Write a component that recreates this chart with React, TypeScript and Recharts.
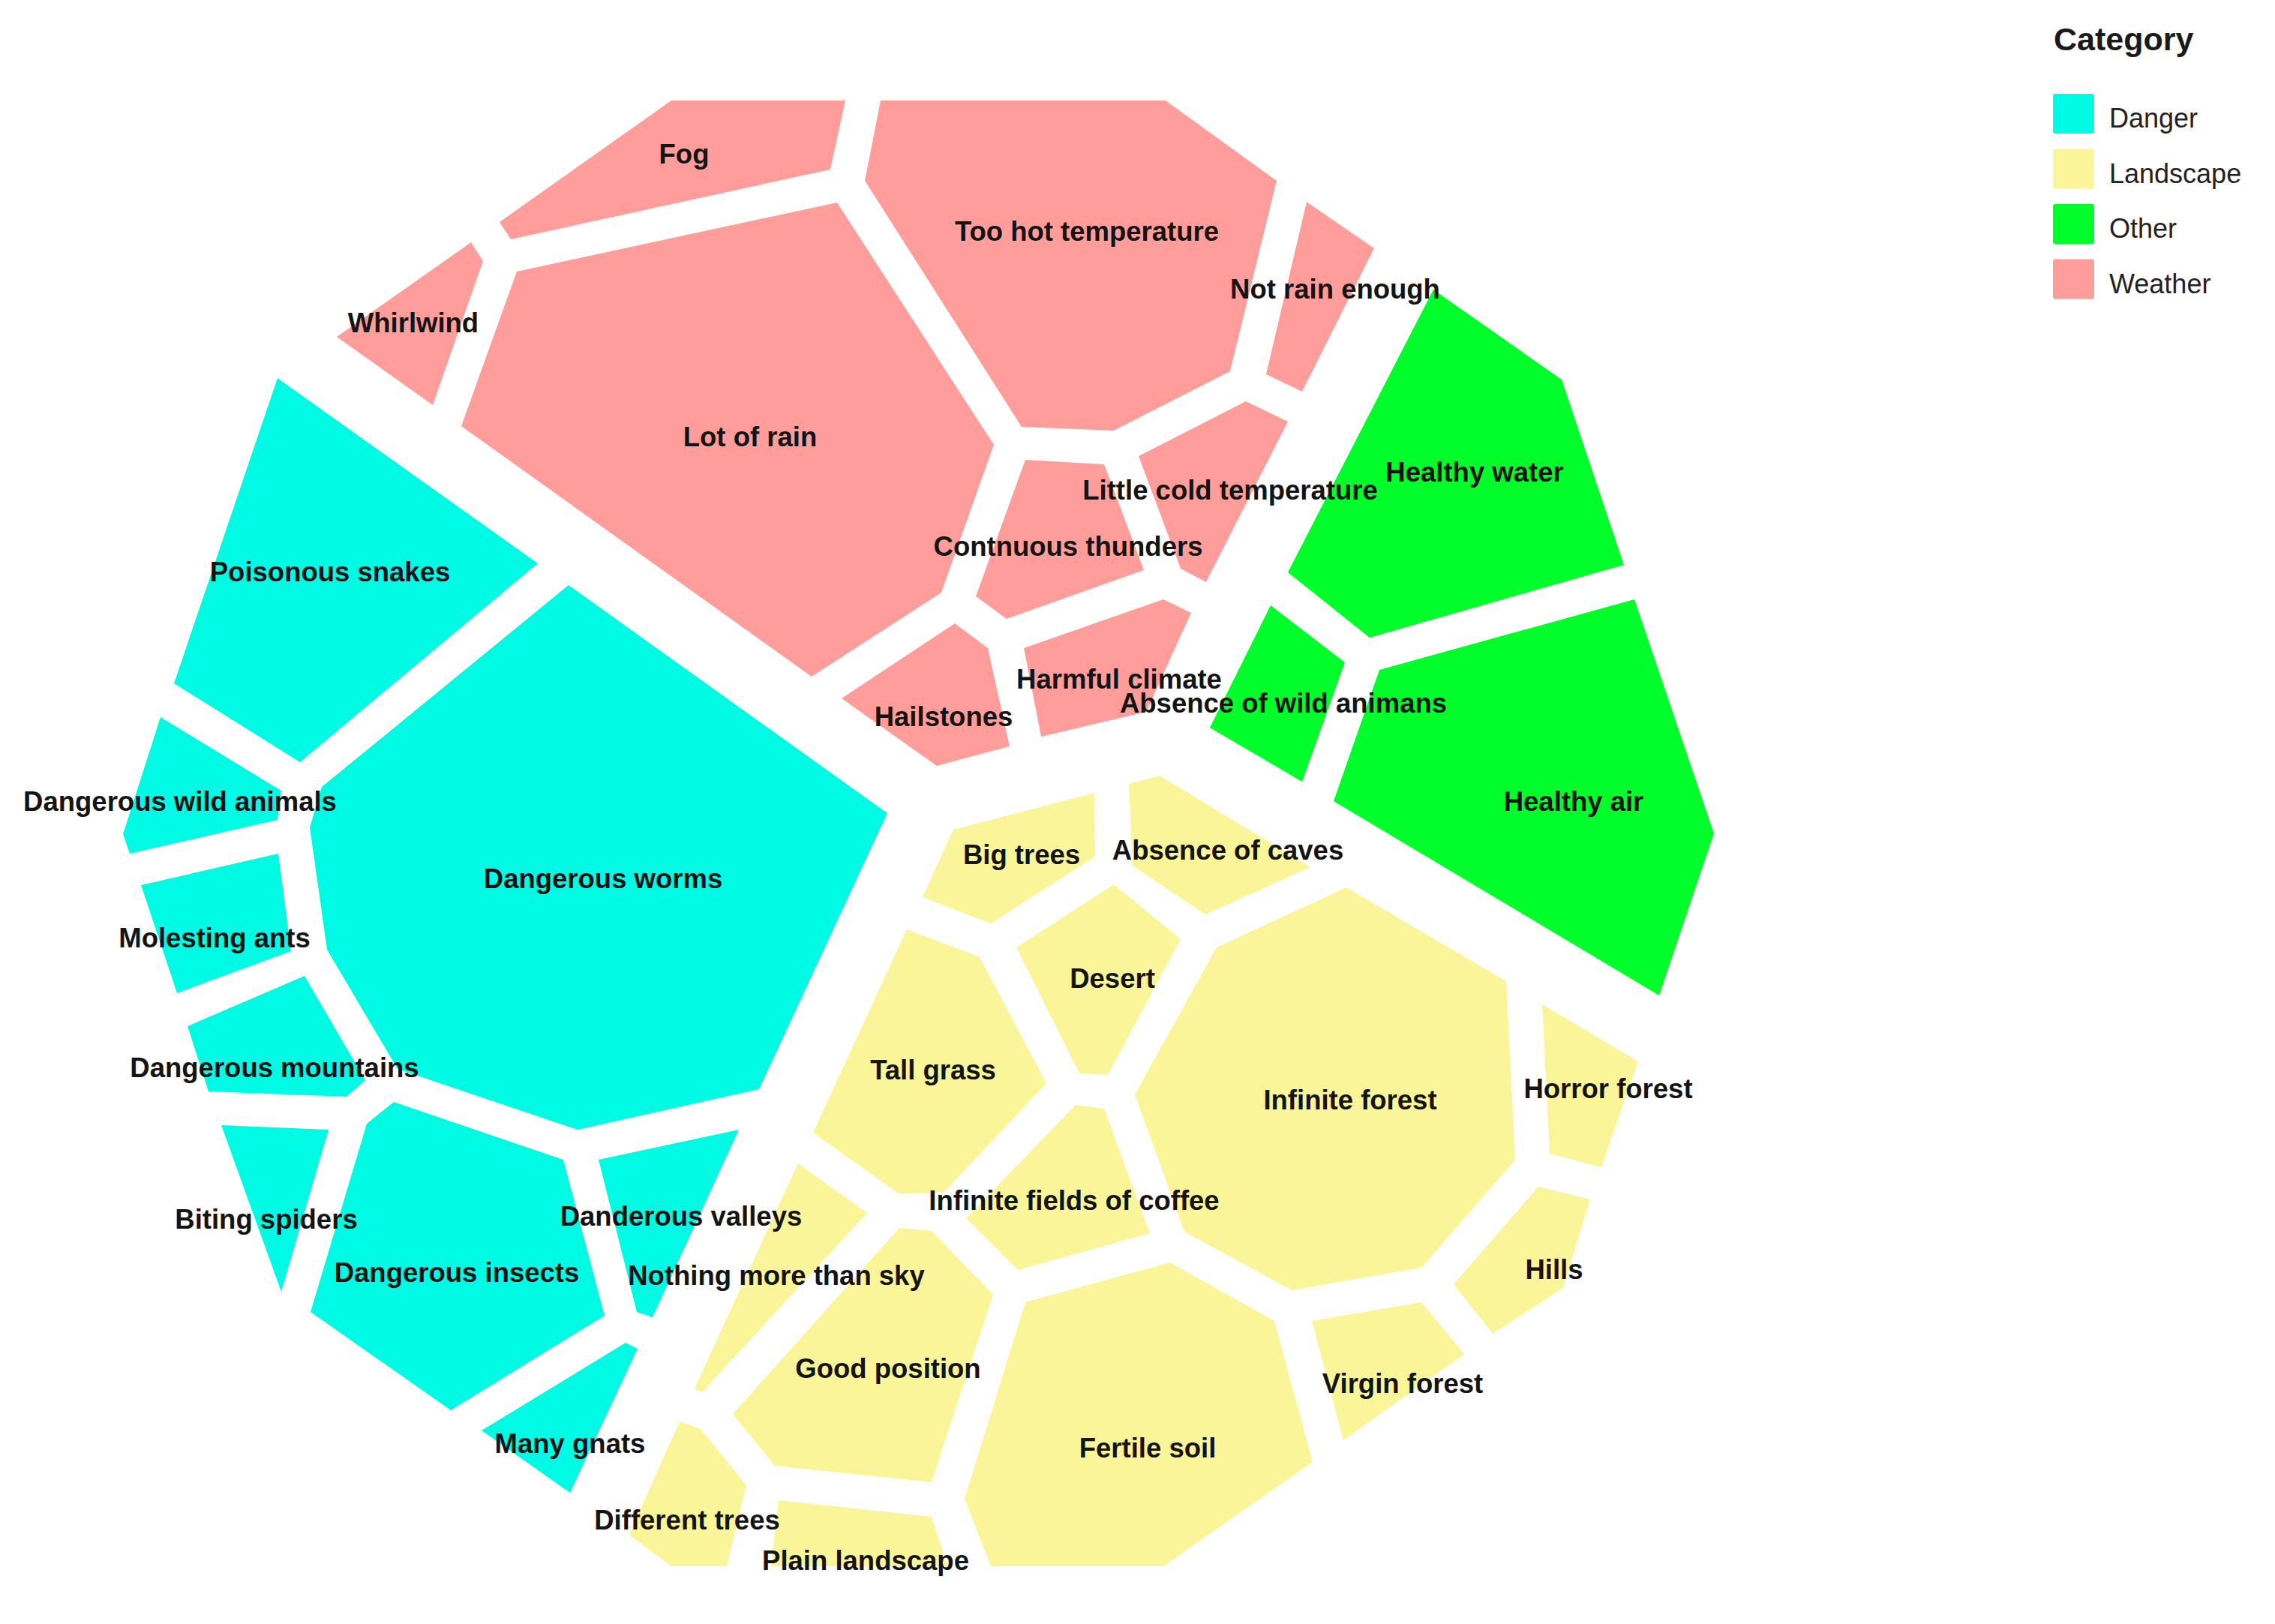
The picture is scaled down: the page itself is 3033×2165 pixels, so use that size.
import React from "react";
import { ScatterChart, Scatter, XAxis, YAxis } from "recharts";

const W = 3033;
const H = 2165;

const categories = ["Danger", "Landscape", "Other", "Weather"];
const categoryColors = ["#00FBE4", "#FAF598", "#00FF2A", "#FF9D9B"];

const cellNames = [
  "Fog", "Whirlwind", "Too hot temperature", "Not rain enough", "Lot of rain",
  "Little cold temperature", "Contnuous thunders", "Hailstones", "Harmful climate",
  "Healthy water", "Absence of wild animans", "Healthy air",
  "Poisonous snakes", "Dangerous wild animals", "Dangerous worms", "Molesting ants",
  "Dangerous mountains", "Biting spiders", "Dangerous insects", "Danderous valleys", "Many gnats",
  "Big trees", "Absence of caves", "Desert", "Tall grass", "Infinite forest", "Horror forest",
  "Infinite fields of coffee", "Nothing more than sky", "Good position", "Hills",
  "Virgin forest", "Fertile soil", "Different trees", "Plain landscape",
];

const cellCategory = [
  "Weather", "Weather", "Weather", "Weather", "Weather", "Weather", "Weather", "Weather", "Weather",
  "Other", "Other", "Other",
  "Danger", "Danger", "Danger", "Danger", "Danger", "Danger", "Danger", "Danger", "Danger",
  "Landscape", "Landscape", "Landscape", "Landscape", "Landscape", "Landscape", "Landscape",
  "Landscape", "Landscape", "Landscape", "Landscape", "Landscape", "Landscape", "Landscape",
];

// voronoi cell outlines, in picture units
const cellOutlines: number[][][] = [
  [[895, 134], [1127, 134], [1107, 226], [681, 319], [666, 296]],
  [[628, 323], [644, 348], [577, 540], [449, 449]],
  [[1174, 134], [1554, 134], [1702, 241], [1640, 495], [1485, 574], [1362, 569], [1153, 241]],
  [[1742, 269], [1832, 331], [1736, 522], [1688, 499]],
  [[689, 362], [1116, 270], [1325, 593], [1255, 790], [1082, 902], [615, 568]],
  [[1661, 535], [1717, 562], [1608, 776], [1574, 758], [1518, 608]],
  [[1367, 613], [1472, 619], [1525, 760], [1342, 825], [1301, 795]],
  [[1273, 831], [1317, 864], [1346, 995], [1249, 1021], [1122, 931]],
  [[1365, 864], [1551, 799], [1588, 817], [1528, 949], [1388, 982]],
  [[1911, 386], [2082, 506], [2165, 753], [1826, 850], [1717, 763]],
  [[1694, 807], [1793, 883], [1736, 1042], [1613, 970]],
  [[1839, 893], [2179, 799], [2285, 1111], [2212, 1327], [1778, 1068]],
  [[370, 504], [717, 751], [400, 1016], [232, 911]],
  [[214, 956], [375, 1054], [370, 1093], [173, 1138], [164, 1112]],
  [[758, 780], [1183, 1084], [1012, 1452], [770, 1506], [530, 1425], [436, 1266], [413, 1103], [429, 1049]],
  [[188, 1180], [371, 1138], [388, 1268], [236, 1324]],
  [[250, 1368], [406, 1301], [487, 1440], [462, 1462], [278, 1455]],
  [[295, 1500], [438, 1506], [375, 1722]],
  [[489, 1498], [525, 1469], [751, 1546], [806, 1754], [601, 1880], [414, 1749]],
  [[798, 1546], [985, 1506], [870, 1756], [849, 1749]],
  [[642, 1907], [834, 1790], [850, 1798], [760, 1990]],
  [[1271, 1106], [1459, 1057], [1460, 1142], [1321, 1231], [1230, 1196]],
  [[1505, 1045], [1546, 1034], [1747, 1156], [1607, 1219], [1510, 1154]],
  [[1485, 1179], [1574, 1252], [1477, 1433], [1439, 1431], [1355, 1263]],
  [[1209, 1239], [1306, 1276], [1395, 1444], [1258, 1590], [1198, 1591], [1084, 1510]],
  [[1622, 1263], [1795, 1183], [2008, 1308], [2020, 1546], [1895, 1690], [1722, 1720], [1579, 1642], [1513, 1459]],
  [[2056, 1339], [2184, 1415], [2135, 1556], [2066, 1538]],
  [[1434, 1473], [1472, 1478], [1533, 1644], [1357, 1693], [1288, 1624]],
  [[1064, 1551], [1156, 1617], [936, 1856], [926, 1851]],
  [[1199, 1637], [1242, 1641], [1324, 1726], [1242, 1976], [1033, 1954], [977, 1885]],
  [[2051, 1582], [2120, 1599], [2084, 1717], [1990, 1778], [1938, 1712]],
  [[1749, 1761], [1895, 1736], [1952, 1805], [1791, 1920]],
  [[1367, 1736], [1560, 1683], [1699, 1761], [1750, 1949], [1551, 2088], [1321, 2088], [1286, 1998]],
  [[906, 1895], [934, 1905], [995, 1980], [969, 2088], [895, 2088], [839, 2046]],
  [[1038, 2000], [1242, 2022], [1263, 2088], [1028, 2088]],
];

const labelPositions: number[][] = [
  [912, 205], [551, 430], [1449, 308], [1780, 385], [1000, 582],
  [1640, 653], [1424, 728], [1258, 955], [1492, 905],
  [1966, 629], [1711, 937], [2098, 1068],
  [440, 762], [240, 1068], [804, 1171], [286, 1250],
  [366, 1423], [355, 1625], [609, 1696], [908, 1621], [760, 1924],
  [1362, 1139], [1637, 1133], [1483, 1304], [1244, 1426], [1800, 1466], [2144, 1451],
  [1432, 1600], [1035, 1700], [1184, 1824], [2072, 1692],
  [1870, 1844], [1530, 1930], [916, 2026], [1154, 2080],
];

const FONT = '"Liberation Sans", Arial, sans-serif';

const colorOf = (cat: string) => categoryColors[categories.indexOf(cat)];

const labelData = cellNames.map((name, i) => ({
  x: labelPositions[i][0],
  y: labelPositions[i][1],
  name,
}));

// draws the scatter "line" as a closed filled polygon
const polygonLine = (fill: string) => (props: any) => {
  const pts = props.points || [];
  const d =
    pts.map((p: any, i: number) => `${i ? "L" : "M"}${p.x},${p.y}`).join("") + "Z";
  return <path d={d} fill={fill} stroke="none" />;
};

const CellLabel = (props: any) => (
  <text
    x={props.cx}
    y={props.cy}
    textAnchor="middle"
    dominantBaseline="central"
    fontFamily={FONT}
    fontWeight={700}
    fontSize={36.5}
    fill="#141414"
  >
    {props.payload.name}
  </text>
);

const LegendBox = () => (
  <svg
    width={313}
    height={420}
    style={{ position: "absolute", left: 2720, top: 0 }}
  >
    <text x={18} y={67} fontFamily={FONT} fontWeight={700} fontSize={43} fill="#1a1a1a">
      Category
    </text>
    {categories.map((c, i) => (
      <g key={c}>
        <rect x={17} y={125 + i * 73.5} width={55} height={53} rx={3} fill={categoryColors[i]} />
        <text x={92} y={170 + i * 73.5} fontFamily={FONT} fontSize={36} fill="#222">
          {c}
        </text>
      </g>
    ))}
  </svg>
);

export default function App() {
  return (
    <div style={{ position: "absolute", left: 0, top: 0, width: W, height: H, background: "#fff" }}>
      <ScatterChart width={W} height={H} margin={{ top: 0, right: 0, bottom: 0, left: 0 }}>
        <XAxis type="number" dataKey="x" domain={[0, W]} allowDataOverflow hide />
        <YAxis type="number" dataKey="y" domain={[0, H]} allowDataOverflow reversed hide />
        {cellOutlines.map((outline, i) => (
          <Scatter
            key={cellNames[i]}
            name={cellNames[i]}
            data={outline.map(([x, y]) => ({ x, y }))}
            line={polygonLine(colorOf(cellCategory[i]))}
            lineType="joint"
            shape={() => <g />}
            isAnimationActive={false}
          />
        ))}
        <Scatter
          name="labels"
          data={labelData}
          shape={CellLabel}
          isAnimationActive={false}
        />
      </ScatterChart>
      <LegendBox />
    </div>
  );
}
